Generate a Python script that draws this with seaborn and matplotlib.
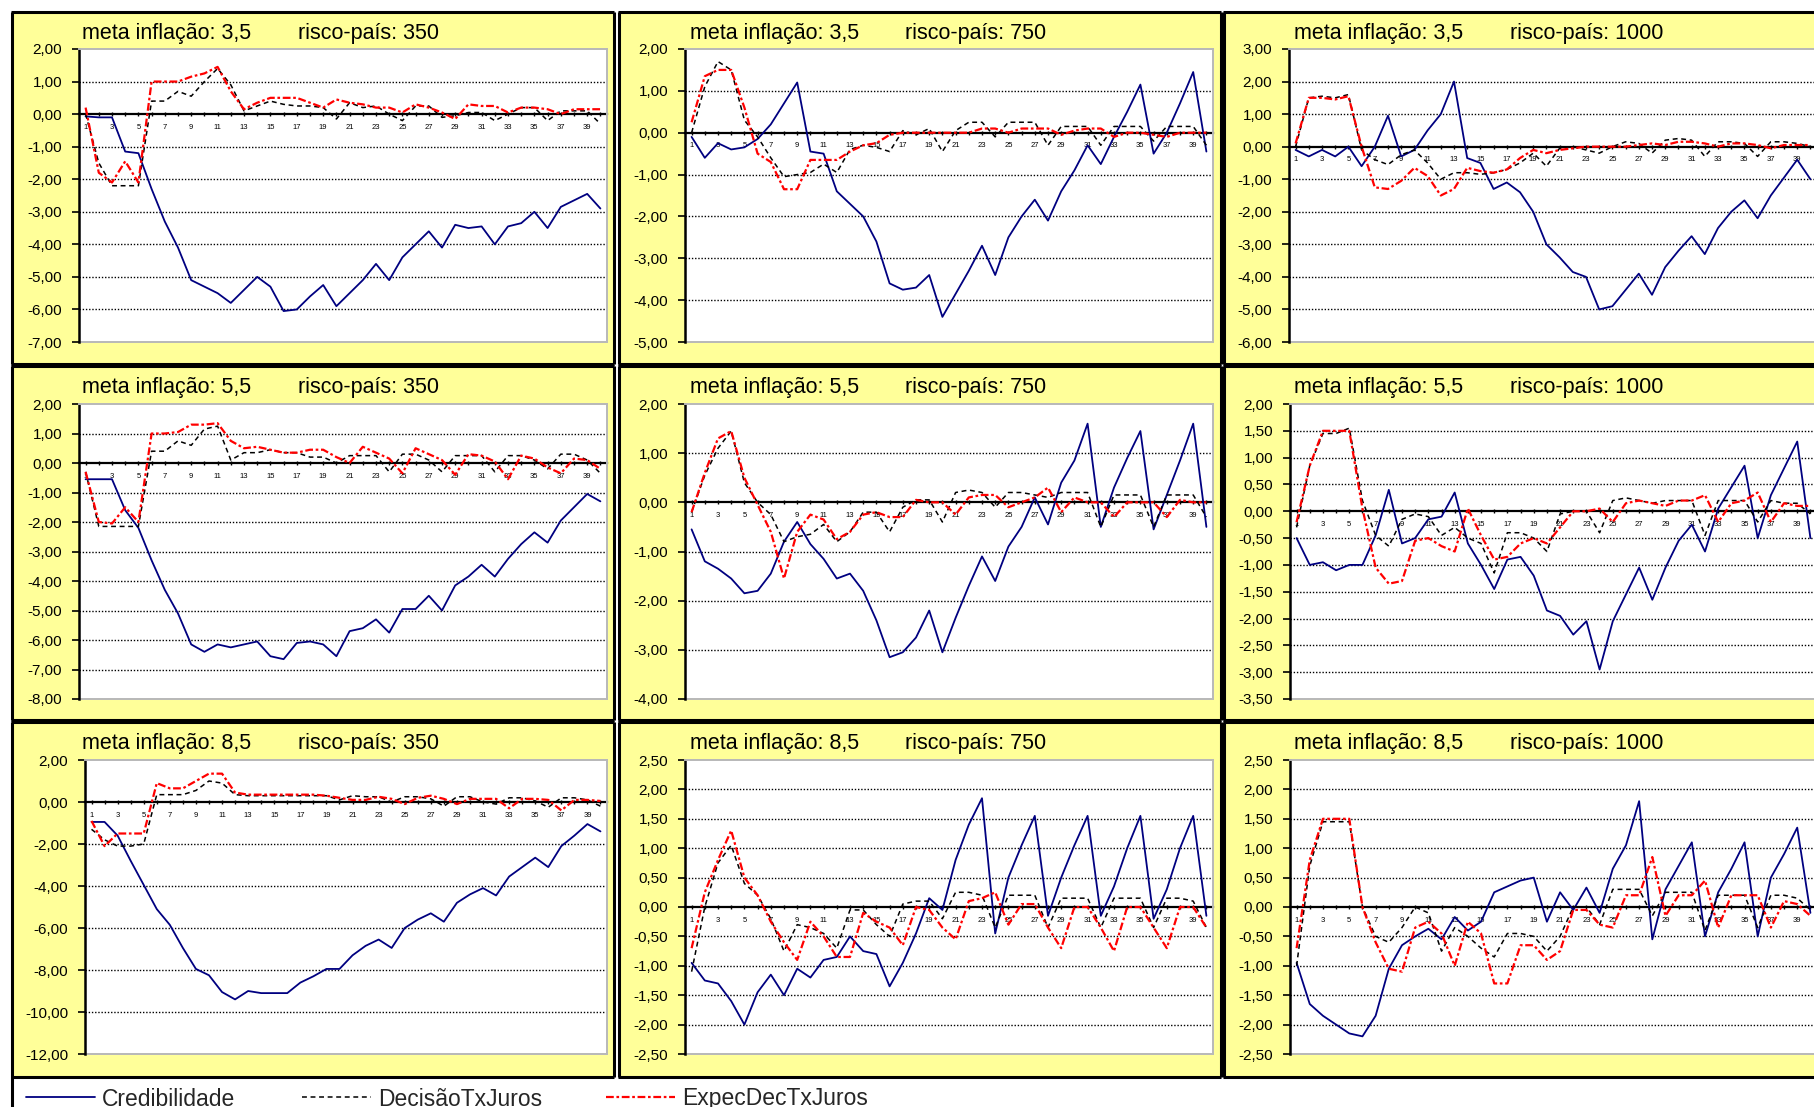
import matplotlib
matplotlib.use("Agg")
import matplotlib.pyplot as plt
from matplotlib.patches import Rectangle
from matplotlib.lines import Line2D
import numpy as np
import pandas as pd
import seaborn as sns

sns.set_style("white")
plt.rcParams["font.family"] = ["Liberation Sans", "DejaVu Sans"]

# ---------------------------------------------------------------- data
periodos = list(range(1, 41))
metas = ["3,5", "5,5", "8,5"]
riscos = ["350", "750", "1000"]
series_nomes = ["Credibilidade", "DecisãoTxJuros", "ExpecDecTxJuros"]

# meta 3,5 / risco 350
cred_35_350 = [-0.07, -0.1, -0.1, -1.15, -1.2, -2.3, -3.3, -4.1, -5.1, -5.3, -5.5, -5.8, -5.4, -5.0, -5.3, -6.05, -6.0, -5.6, -5.25, -5.9,
               -5.5, -5.1, -4.6, -5.1, -4.4, -4.0, -3.6, -4.1, -3.4, -3.5, -3.45, -4.0, -3.45, -3.35, -3.0, -3.5, -2.85, -2.65, -2.45, -2.9]
dec_35_350 = [0.0, -1.5, -2.2, -2.2, -2.2, 0.4, 0.4, 0.7, 0.55, 1.0, 1.4, 0.9, 0.1, 0.25, 0.4, 0.3, 0.25, 0.25, 0.2, -0.15,
              0.35, 0.2, 0.25, 0.0, -0.2, 0.25, 0.25, -0.1, -0.05, 0.05, 0.05, -0.2, 0.0, 0.2, 0.2, -0.2, 0.1, 0.1, 0.1, -0.3]
exp_35_350 = [0.2, -1.8, -2.1, -1.45, -2.1, 1.0, 1.0, 1.0, 1.15, 1.25, 1.45, 0.7, 0.15, 0.35, 0.5, 0.5, 0.5, 0.35, 0.2, 0.45,
              0.35, 0.3, 0.2, 0.2, 0.05, 0.3, 0.2, 0.05, -0.15, 0.3, 0.25, 0.25, 0.05, 0.2, 0.2, 0.15, 0.0, 0.15, 0.15, 0.15]

# meta 3,5 / risco 750
cred_35_750 = [-0.1, -0.6, -0.25, -0.4, -0.35, -0.15, 0.2, 0.7, 1.2, -0.45, -0.5, -1.4, -1.7, -2.0, -2.6, -3.6, -3.75, -3.7, -3.4, -4.4,
               -3.85, -3.3, -2.7, -3.4, -2.5, -2.0, -1.6, -2.1, -1.4, -0.9, -0.3, -0.75, -0.1, 0.5, 1.15, -0.5, 0.0, 0.7, 1.45, -0.45]
dec_35_750 = [0.0, 1.1, 1.7, 1.5, 0.3, -0.1, -0.6, -1.05, -1.0, -0.95, -0.75, -0.95, -0.4, -0.3, -0.35, -0.45, 0.05, -0.05, 0.1, -0.45,
              0.05, 0.25, 0.25, -0.1, 0.25, 0.25, 0.25, -0.3, 0.15, 0.15, 0.15, -0.3, 0.15, 0.15, 0.15, -0.2, 0.15, 0.15, 0.15, -0.3]
exp_35_750 = [0.25, 1.35, 1.5, 1.5, 0.6, -0.5, -0.7, -1.35, -1.35, -0.65, -0.65, -0.65, -0.45, -0.3, -0.25, -0.05, 0.0, 0.0, 0.0, 0.0,
              0.0, 0.0, 0.1, 0.1, 0.0, 0.1, 0.1, 0.1, -0.05, 0.05, 0.1, 0.1, -0.1, 0.0, 0.0, -0.05, -0.1, 0.0, 0.0, 0.0]

# meta 3,5 / risco 1000
cred_35_1000 = [-0.1, -0.3, -0.1, -0.3, 0.0, -0.6, 0.0, 0.95, -0.3, -0.1, 0.5, 1.0, 2.0, -0.35, -0.5, -1.3, -1.1, -1.4, -2.0, -3.0,
                -3.4, -3.85, -4.0, -5.0, -4.9, -4.4, -3.9, -4.55, -3.7, -3.2, -2.75, -3.3, -2.5, -2.0, -1.65, -2.2, -1.5, -0.95, -0.4, -1.0]
dec_35_1000 = [0.0, 1.5, 1.55, 1.5, 1.6, -0.1, -0.4, -0.55, -0.25, -0.1, -0.5, -1.0, -0.8, -0.8, -0.85, -0.8, -0.7, -0.5, -0.2, -0.6,
               -0.05, 0.0, -0.1, -0.2, 0.0, 0.15, 0.1, -0.2, 0.2, 0.25, 0.2, -0.3, 0.15, 0.15, 0.1, -0.3, 0.15, 0.15, 0.1, 0.0]
exp_35_1000 = [0.1, 1.5, 1.5, 1.45, 1.55, 0.0, -1.25, -1.3, -1.05, -0.65, -0.9, -1.5, -1.3, -0.65, -0.75, -0.8, -0.7, -0.35, -0.1, -0.2,
               -0.1, -0.05, 0.0, 0.0, 0.0, 0.0, 0.05, 0.1, 0.05, 0.15, 0.15, 0.1, 0.0, 0.1, 0.1, 0.05, -0.05, 0.05, 0.05, 0.05]

# meta 5,5 / risco 350
cred_55_350 = [-0.55, -0.55, -0.55, -1.6, -2.2, -3.3, -4.3, -5.1, -6.15, -6.4, -6.15, -6.25, -6.15, -6.05, -6.55, -6.65, -6.1, -6.05, -6.15, -6.55,
               -5.7, -5.6, -5.3, -5.75, -4.95, -4.95, -4.5, -5.0, -4.15, -3.85, -3.45, -3.85, -3.25, -2.75, -2.35, -2.7, -1.95, -1.5, -1.05, -1.3]
dec_55_350 = [-0.3, -2.15, -2.15, -2.15, -2.15, 0.4, 0.4, 0.75, 0.6, 1.15, 1.25, 0.1, 0.35, 0.35, 0.45, 0.35, 0.35, 0.2, 0.2, 0.0,
              0.25, 0.25, 0.25, -0.3, 0.3, 0.3, 0.1, -0.3, 0.25, 0.25, 0.25, -0.3, 0.25, 0.25, 0.1, -0.2, 0.3, 0.3, 0.1, -0.35]
exp_55_350 = [-0.3, -2.0, -2.05, -1.5, -2.0, 1.0, 1.0, 1.05, 1.3, 1.3, 1.35, 0.75, 0.5, 0.55, 0.45, 0.35, 0.35, 0.45, 0.45, 0.2,
              0.0, 0.55, 0.35, 0.15, -0.35, 0.5, 0.3, 0.1, -0.4, 0.3, 0.25, 0.05, -0.55, 0.25, 0.15, -0.15, -0.35, 0.15, 0.1, -0.2]

# meta 5,5 / risco 750
cred_55_750 = [-0.55, -1.2, -1.35, -1.55, -1.85, -1.8, -1.45, -0.8, -0.4, -0.85, -1.15, -1.55, -1.45, -1.8, -2.4, -3.15, -3.05, -2.75, -2.2, -3.05,
               -2.35, -1.7, -1.1, -1.6, -0.9, -0.5, 0.1, -0.45, 0.4, 0.85, 1.6, -0.5, 0.3, 0.9, 1.45, -0.55, 0.15, 0.85, 1.6, -0.5]
dec_55_750 = [-0.2, 0.55, 1.1, 1.45, 0.4, 0.0, -0.25, -0.8, -0.7, -0.65, -0.45, -0.8, -0.6, -0.2, -0.2, -0.6, -0.1, 0.05, 0.05, -0.4,
              0.2, 0.25, 0.2, -0.1, 0.2, 0.2, 0.15, 0.1, 0.2, 0.2, 0.2, -0.5, 0.15, 0.15, 0.15, -0.5, 0.15, 0.15, 0.15, -0.3]
exp_55_750 = [-0.2, 0.6, 1.3, 1.45, 0.5, -0.05, -0.6, -1.55, -0.6, -0.25, -0.35, -0.75, -0.6, -0.25, -0.2, -0.3, -0.3, 0.05, 0.0, 0.0,
              -0.25, 0.1, 0.15, 0.15, -0.1, 0.0, 0.1, 0.3, -0.2, 0.1, 0.0, 0.0, -0.3, 0.0, 0.0, 0.0, -0.3, 0.05, 0.0, 0.0]

# meta 5,5 / risco 1000
cred_55_1000 = [-0.5, -1.0, -0.95, -1.1, -1.0, -1.0, -0.45, 0.4, -0.6, -0.5, -0.15, -0.1, 0.35, -0.6, -1.0, -1.45, -0.9, -0.85, -1.2, -1.85,
                -1.95, -2.3, -2.05, -2.95, -2.05, -1.55, -1.05, -1.65, -1.05, -0.55, -0.25, -0.75, 0.05, 0.45, 0.85, -0.5, 0.3, 0.8, 1.3, -0.5]
dec_55_1000 = [-0.3, 0.85, 1.45, 1.45, 1.55, 0.2, -0.45, -0.65, -0.15, -0.05, -0.1, -0.45, -0.3, -0.5, -0.6, -1.15, -0.4, -0.4, -0.5, -0.75,
               -0.05, 0.0, 0.0, -0.4, 0.2, 0.25, 0.2, 0.15, 0.2, 0.2, 0.2, -0.45, 0.2, 0.2, 0.2, -0.2, 0.2, 0.15, 0.15, -0.05]
exp_55_1000 = [-0.2, 0.85, 1.5, 1.5, 1.5, 0.05, -1.05, -1.35, -1.3, -0.55, -0.5, -0.65, -0.75, 0.05, -0.45, -0.9, -0.85, -0.6, -0.5, -0.6,
               -0.3, 0.0, 0.0, 0.05, -0.2, 0.15, 0.2, 0.15, 0.1, 0.2, 0.2, 0.3, -0.2, 0.15, 0.2, 0.35, -0.2, 0.15, 0.1, 0.1]

# meta 8,5 / risco 350
cred_85_350 = [-0.95, -0.95, -1.6, -2.8, -3.95, -5.1, -5.85, -6.95, -7.95, -8.25, -9.05, -9.4, -9.0, -9.1, -9.1, -9.1, -8.6, -8.3, -7.95, -7.95,
               -7.3, -6.85, -6.55, -6.95, -6.0, -5.6, -5.3, -5.7, -4.8, -4.4, -4.1, -4.45, -3.55, -3.1, -2.65, -3.1, -2.1, -1.6, -1.05, -1.4]
dec_85_350 = [-1.3, -1.8, -2.1, -2.1, -2.0, 0.35, 0.35, 0.35, 0.55, 1.0, 0.9, 0.35, 0.3, 0.3, 0.3, 0.3, 0.3, 0.3, 0.3, 0.1,
              0.3, 0.25, 0.25, 0.0, 0.25, 0.25, 0.15, -0.2, 0.25, 0.25, 0.0, -0.1, 0.2, 0.2, 0.05, -0.25, 0.2, 0.2, 0.1, -0.2]
exp_85_350 = [-0.9, -2.1, -1.5, -1.5, -1.5, 0.9, 0.65, 0.65, 1.0, 1.35, 1.35, 0.45, 0.35, 0.35, 0.35, 0.35, 0.35, 0.35, 0.3, 0.2,
              0.1, 0.1, 0.25, 0.15, -0.1, 0.2, 0.3, 0.15, -0.1, 0.15, 0.15, 0.15, -0.3, 0.15, 0.15, 0.1, -0.4, 0.1, 0.1, 0.05]

# meta 8,5 / risco 750
cred_85_750 = [-0.95, -1.25, -1.3, -1.6, -2.0, -1.45, -1.15, -1.5, -1.05, -1.2, -0.9, -0.85, -0.5, -0.75, -0.8, -1.35, -0.95, -0.45, 0.15, -0.05,
               0.8, 1.4, 1.85, -0.45, 0.5, 1.05, 1.55, -0.15, 0.5, 1.05, 1.55, -0.15, 0.35, 1.0, 1.55, -0.2, 0.3, 1.0, 1.55, -0.15]
dec_85_750 = [-1.1, 0.0, 0.75, 1.05, 0.4, 0.2, -0.2, -0.75, -0.3, -0.35, -0.45, -0.7, -0.05, -0.05, -0.3, -0.5, 0.05, 0.1, 0.1, -0.2,
              0.25, 0.25, 0.2, -0.35, 0.2, 0.2, 0.2, -0.35, 0.15, 0.15, 0.15, -0.35, 0.15, 0.15, 0.15, -0.35, 0.15, 0.15, 0.1, -0.35]
exp_85_750 = [-0.7, 0.25, 0.8, 1.3, 0.5, 0.2, -0.25, -0.6, -0.9, -0.25, -0.5, -0.85, -0.85, -0.1, -0.25, -0.35, -0.65, 0.0, -0.05, -0.35,
              -0.55, 0.1, 0.15, 0.25, -0.3, 0.05, 0.05, -0.35, -0.7, 0.0, 0.0, -0.35, -0.75, 0.0, 0.0, -0.35, -0.7, 0.0, 0.0, -0.35]

# meta 8,5 / risco 1000
cred_85_1000 = [-0.95, -1.65, -1.85, -2.0, -2.15, -2.2, -1.85, -1.05, -0.65, -0.5, -0.37, -0.55, -0.17, -0.4, -0.25, 0.25, 0.35, 0.45, 0.5, -0.25,
                0.25, -0.05, 0.33, -0.1, 0.65, 1.05, 1.8, -0.55, 0.3, 0.7, 1.1, -0.5, 0.25, 0.65, 1.1, -0.5, 0.5, 0.9, 1.35, -0.1]
dec_85_1000 = [-1.0, 0.7, 1.45, 1.45, 1.45, 0.0, -0.5, -0.6, -0.35, 0.0, -0.1, -0.75, -0.35, -0.5, -0.7, -0.85, -0.45, -0.45, -0.5, -0.75,
               -0.5, 0.0, 0.0, -0.3, 0.3, 0.3, 0.3, -0.15, 0.25, 0.25, 0.25, -0.4, 0.2, 0.2, 0.2, -0.35, 0.2, 0.2, 0.15, -0.05]
exp_85_1000 = [-0.7, 0.8, 1.5, 1.5, 1.5, 0.0, -0.6, -1.05, -1.1, -0.35, -0.25, -0.45, -1.0, -0.25, -0.45, -1.3, -1.3, -0.65, -0.65, -0.9,
               -0.75, -0.05, -0.05, -0.3, -0.35, 0.2, 0.2, 0.85, -0.15, 0.2, 0.2, 0.45, -0.35, 0.2, 0.2, 0.2, -0.35, 0.1, 0.05, -0.15]

credibilidade = [cred_35_350, cred_35_750, cred_35_1000,
                 cred_55_350, cred_55_750, cred_55_1000,
                 cred_85_350, cred_85_750, cred_85_1000]
decisao = [dec_35_350, dec_35_750, dec_35_1000,
           dec_55_350, dec_55_750, dec_55_1000,
           dec_85_350, dec_85_750, dec_85_1000]
expectativa = [exp_35_350, exp_35_750, exp_35_1000,
               exp_55_350, exp_55_750, exp_55_1000,
               exp_85_350, exp_85_750, exp_85_1000]

# value-axis range of each panel (row-major)
y_min = [-7, -5, -6, -8, -4, -3.5, -12, -2.5, -2.5]
y_max = [2, 2, 3, 2, 2, 2, 2, 2.5, 2.5]
y_step = [1, 1, 1, 1, 1, 0.5, 2, 0.5, 0.5]

# ---------------------------------------------------------------- layout (pixels)
W, H = 1814, 1107
PANEL_BG = "#FFFF99"
NAVY = "#000080"
RED = "#FF0000"
FRAME_GRAY = "#B8B8B8"

fig = plt.figure(figsize=(W / 100, H / 100), dpi=100)
fig.patch.set_facecolor("white")


def frac(x0, y0, x1, y1):
    return [x0 / W, 1 - y1 / H, (x1 - x0) / W, (y1 - y0) / H]


def fig_line(xs, ys, **kw):
    fig.add_artist(Line2D([x / W for x in xs], [1 - y / H for y in ys],
                          transform=fig.transFigure, **kw))


# the third column runs on past the right edge of the canvas
panel_x = [(12, 614), (619, 1221), (1224, 1826)]
panel_y = [(12, 364), (366, 720), (722, 1077)]
plot_left = [[79, 685, 1289], [79, 685, 1290], [85, 685, 1290]]
plot_right = [607, 1213, 1817]
plot_y = [(49, 342), (404, 699), (760, 1054)]


def fmt(v):
    return f"{v:.2f}".replace(".", ",")


handles = []
for r in range(3):
    for c in range(3):
        k = 3 * r + c
        px0, px1 = panel_x[c]
        py0, py1 = panel_y[r]
        open_right = px1 > W
        x_end = min(px1, W)
        bg = Rectangle((px0 / W, 1 - py1 / H), (x_end - px0) / W, (py1 - py0) / H,
                       transform=fig.transFigure, facecolor=PANEL_BG,
                       edgecolor="none", zorder=-5)
        fig.add_artist(bg)
        border = dict(color="black", lw=2.2, solid_capstyle="butt", zorder=-4)
        fig_line([px0 - 1, x_end], [py0, py0], **border)
        fig_line([px0 - 1, x_end], [py1, py1], **border)
        fig_line([px0, px0], [py0, py1], **border)
        if not open_right:
            fig_line([px1, px1], [py0, py1], **border)

        fig.text((px0 + 70.5) / W, 1 - (py0 + 26.5) / H, f"meta inflação: {metas[r]}",
                 fontsize=15.5, va="baseline", ha="left", color="black")
        fig.text((px0 + 286) / W, 1 - (py0 + 26.5) / H, f"risco-país: {riscos[c]}",
                 fontsize=15.5, va="baseline", ha="left", color="black")

        ax = fig.add_axes(frac(plot_left[r][c], plot_y[r][0], plot_right[c], plot_y[r][1]))
        ax.set_facecolor("white")

        df = pd.DataFrame({"periodo": periodos,
                           "Credibilidade": credibilidade[k],
                           "DecisãoTxJuros": decisao[k],
                           "ExpecDecTxJuros": expectativa[k]})

        ticks = np.arange(y_min[k], y_max[k] + y_step[k] / 2, y_step[k])
        for v in ticks:
            if v not in (y_min[k], y_max[k]) and abs(v) > 1e-9:
                ax.axhline(v, color="black", lw=1.0, linestyle=(0, (1, 1.3)), zorder=1)

        sns.lineplot(data=df, x="periodo", y="Credibilidade", ax=ax, color=NAVY,
                     lw=1.3, zorder=3)
        sns.lineplot(data=df, x="periodo", y="DecisãoTxJuros", ax=ax, color="black",
                     lw=1.1, linestyle=(0, (3.2, 2.4)), zorder=4)
        sns.lineplot(data=df, x="periodo", y="ExpecDecTxJuros", ax=ax, color=RED,
                     lw=1.6, linestyle=(0, (3.5, 1.2, 1.2, 1.2)), zorder=5)
        if k == 0:
            handles = list(ax.get_lines()[-3:])

        ax.set_xlabel("")
        ax.set_ylabel("")
        ax.set_xlim(0.5, 40.5)
        ax.set_ylim(y_min[k], y_max[k])

        ax.set_yticks(ticks)
        ax.set_yticklabels([fmt(v) for v in ticks])
        ax.tick_params(axis="y", direction="out", length=5, width=1.2, pad=7,
                       labelsize=11, colors="black", left=True)

        ax.set_xticks(periodos)
        ax.set_xticklabels([str(p) if p % 2 == 1 else "" for p in periodos])
        ax.tick_params(axis="x", direction="inout", length=3, width=1.0, pad=5.5,
                       labelsize=5.5, colors="black", bottom=True)
        for lab in ax.get_xticklabels():
            lab.set_fontweight("bold")

        # plot-area frame: light gray, category axis crossing at zero
        ax.spines["top"].set_color(FRAME_GRAY)
        ax.spines["top"].set_linewidth(1.4)
        ax.spines["right"].set_color(FRAME_GRAY)
        ax.spines["right"].set_linewidth(1.4)
        ax.spines["right"].set_visible(not open_right)
        ax.plot([0, 1], [0, 0], transform=ax.transAxes, color=FRAME_GRAY, lw=1.4,
                clip_on=False, zorder=0.5)
        ax.spines["bottom"].set_position(("data", 0))
        ax.spines["bottom"].set_color("black")
        ax.spines["bottom"].set_linewidth(1.6)
        ax.spines["bottom"].set_zorder(2)
        ax.spines["left"].set_color("black")
        ax.spines["left"].set_linewidth(1.8)
        ax.grid(False)

# legend strip below the panels
fig_line([12, 12], [1077, H], color="black", lw=2.2)

legend_x = [26, 302, 606]
for h, name, lx in zip(handles, series_nomes, legend_x):
    fig.legend(handles=[h], labels=[name], loc="center left",
               bbox_to_anchor=(lx / W, 1 - 1099 / H), frameon=False,
               handlelength=3.0, handletextpad=0.3, borderpad=0,
               borderaxespad=0, fontsize=16.5)

fig.savefig("out.png", dpi=100, facecolor="white")
